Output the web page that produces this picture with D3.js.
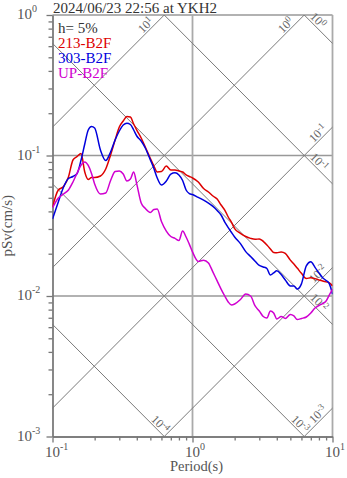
<!DOCTYPE html>
<html>
<head>
<meta charset="utf-8">
<script src="https://cdn.jsdelivr.net/npm/d3@7"></script>
<style>
  html, body { margin: 0; padding: 0; background: #fff; }
  svg { display: block; font-family: "Liberation Serif", "Times New Roman", serif; }
</style>
</head>
<body>
<svg id="chart" width="347" height="478"></svg>
<script>
// Pseudo-velocity response spectra (h = 5%), period in seconds, pSv in cm/s
const periods = [0.10, 0.11, 0.12, 0.13, 0.14, 0.15, 0.16, 0.17, 0.18, 0.19,
  0.20, 0.22, 0.24, 0.26, 0.28, 0.30, 0.32, 0.34, 0.36, 0.38, 0.40,
  0.43, 0.46, 0.50, 0.53, 0.56, 0.60,
  0.65, 0.70, 0.75, 0.80, 0.85, 0.90, 0.95,
  1.0, 1.1, 1.2, 1.3, 1.4, 1.5, 1.6, 1.7, 1.8, 1.9, 2.0,
  2.2, 2.4, 2.6, 2.8, 3.0, 3.2, 3.4, 3.6, 3.8, 4.0,
  4.3, 4.6, 5.0, 5.3, 5.6, 6.0,
  6.5, 7.0, 7.5, 8.0, 8.5, 9.0, 9.5, 10];

const sv213 = [0.0430, 0.0568, 0.0602, 0.0703, 0.0929, 0.0984, 0.1033, 0.0763, 0.0675, 0.0697,
  0.0697, 0.0715, 0.0801, 0.1008, 0.1289, 0.1595, 0.1759, 0.1894, 0.1878, 0.1676, 0.1518,
  0.1332, 0.1150, 0.0952, 0.0842, 0.0763, 0.0769,
  0.0842, 0.0789, 0.0789, 0.0776, 0.0763, 0.0727, 0.0709,
  0.0692, 0.0648, 0.0582, 0.0550, 0.0515, 0.0490, 0.0444, 0.0409, 0.0365, 0.0334, 0.0302,
  0.0279, 0.0265, 0.0257, 0.0253, 0.0255, 0.0245, 0.0231, 0.0216, 0.0204, 0.0203,
  0.0206, 0.0201, 0.0180, 0.0169, 0.0158, 0.0145,
  0.0133, 0.0135, 0.0133, 0.0130, 0.0128, 0.0126, 0.0124, 0.0118];

const sv303 = [0.0353, 0.0467, 0.0597, 0.0686, 0.0709, 0.0745, 0.0929, 0.1207, 0.1519, 0.1608,
  0.1569, 0.1094, 0.0921, 0.1059, 0.1289, 0.1494, 0.1648, 0.1695, 0.1662, 0.1519, 0.1377,
  0.1268, 0.1131, 0.0929, 0.0808, 0.0692, 0.0617,
  0.0658, 0.0738, 0.0754, 0.0727, 0.0664, 0.0568, 0.0536,
  0.0528, 0.0503, 0.0482, 0.0459, 0.0434, 0.0406, 0.0377, 0.0336, 0.0307, 0.0283, 0.0263,
  0.0236, 0.0207, 0.0191, 0.0177, 0.0165, 0.0161, 0.0157, 0.0141, 0.0146, 0.0151,
  0.0142, 0.0130, 0.0118, 0.0118, 0.0112, 0.0122,
  0.0164, 0.0175, 0.0160, 0.0146, 0.0135, 0.0129, 0.0122, 0.0103];

const svUP = [0.0423, 0.0498, 0.0532, 0.0568, 0.0648, 0.0751, 0.0856, 0.0899, 0.0849, 0.0745,
  0.0627, 0.0532, 0.0541, 0.0664, 0.0769, 0.0776, 0.0738, 0.0658, 0.0680, 0.0763, 0.0625,
  0.0459, 0.0420, 0.0393, 0.0413, 0.0416, 0.0339,
  0.0290, 0.0265, 0.0257, 0.0248, 0.0290, 0.0263, 0.0233,
  0.0206, 0.0176, 0.0180, 0.0172, 0.0148, 0.0128, 0.0112, 0.0100, 0.00907, 0.00863, 0.00877,
  0.00944, 0.01033, 0.0100, 0.00849, 0.00782, 0.00715, 0.00697, 0.00782, 0.00757, 0.00686,
  0.00715, 0.00692, 0.00738, 0.00721, 0.00680, 0.00692,
  0.00709, 0.00757, 0.00822, 0.00856, 0.00884, 0.00921, 0.0102, 0.0112];

const seriesNames = ["213-B2F", "303-B2F", "UP-B2F"];
const seriesColors = ["#dd0000", "#0000dd", "#d000d0"];
const seriesValues = [sv213, sv303, svUP];

// Tripartite guide lines: acceleration (cm/s^2) and displacement (cm) levels
const accelLevels = [10, 1, 0.1, 0.01, 0.001];
const dispLevels = [1, 0.1, 0.01, 0.001, 0.0001];

const xMajorTicks = [0.1, 1, 10];
const yMajorTicks = [0.001, 0.01, 0.1, 1];

const titleText = "2024/06/23 22:56 at YKH2";
const dampingText = "h= 5%";
const xTitle = "Period(s)";
const yTitle = "pSv(cm/s)";

// ---- layout ----
const svg = d3.select("#chart");
const L = 52.5, R = 332.5, T = 15, B = 436.5;
const x = d3.scaleLog().domain([0.1, 10]).range([L, R]);
const y = d3.scaleLog().domain([0.001, 1]).range([B, T]);
const TWO_PI = 2 * Math.PI;
const textGray = "#555";

svg.append("defs").append("clipPath").attr("id", "plotClip")
  .append("rect").attr("x", L).attr("y", T).attr("width", R - L).attr("height", B - T);

function minorTicks(domain) {
  const out = [];
  for (let d = domain[0]; d < domain[1] * 0.999; d *= 10) {
    for (let k = 2; k <= 9; k++) out.push(+(k * d).toPrecision(3));
  }
  return out;
}

function powerText(sel, exponent, supSize, supDy) {
  sel.append("tspan").text("10");
  sel.append("tspan").attr("dy", supDy).attr("font-size", supSize).text(String(exponent));
}

// ---- grid ----
const grid = svg.append("g");
grid.selectAll("line.hgrid").data([1, 0.1, 0.01]).join("line").attr("class", "hgrid")
  .attr("x1", L).attr("x2", R).attr("y1", d => y(d)).attr("y2", d => y(d))
  .attr("stroke", "#999").attr("stroke-width", 1.4);
grid.selectAll("line.vgrid").data([1, 10]).join("line").attr("class", "vgrid")
  .attr("y1", T).attr("y2", B).attr("x1", d => x(d)).attr("x2", d => x(d))
  .attr("stroke", "#aaa").attr("stroke-width", 1.8);

// ---- diagonal guides ----
const lineGen = d3.line().x(d => x(d[0])).y(d => y(d[1]));
const diag = svg.append("g").attr("clip-path", "url(#plotClip)");
accelLevels.forEach(a => {
  diag.append("path").attr("d", lineGen([0.05, 20].map(t => [t, a * t / TWO_PI])))
    .attr("fill", "none").attr("stroke", "#7a7a7a").attr("stroke-width", 1);
});
dispLevels.forEach(dv => {
  diag.append("path").attr("d", lineGen([0.05, 20].map(t => [t, TWO_PI * dv / t])))
    .attr("fill", "none").attr("stroke", "#7a7a7a").attr("stroke-width", 1);
});

const guideLabels = svg.append("g").attr("fill", "#666").attr("font-size", 12);
const s2 = Math.SQRT1_2;
accelLevels.forEach(a => {
  const tTop = TWO_PI / a;
  let ex, ey, back;
  if (tTop <= 10) { ex = x(tTop); ey = y(1); back = 12; }
  else { ex = x(10); ey = y(a * 10 / TWO_PI); back = 5; }
  const px = ex - back * s2, py = ey + back * s2;
  const t = guideLabels.append("text").attr("text-anchor", "end")
    .attr("transform", `translate(${px},${py}) rotate(-45)`).attr("dy", -2);
  powerText(t, Math.round(Math.log10(a)), 9, -4);
});
dispLevels.forEach(dv => {
  const tBot = TWO_PI * dv / 0.001;
  let t;
  if (tBot <= 10) {
    const ex = x(tBot), ey = y(0.001), back = 2;
    t = guideLabels.append("text").attr("text-anchor", "end")
      .attr("transform", `translate(${ex - back * s2},${ey - back * s2}) rotate(45)`).attr("dy", -2);
  } else {
    const sx = 308, tp = x.invert(sx);
    const sy = y(TWO_PI * dv / tp);
    t = guideLabels.append("text").attr("text-anchor", "start")
      .attr("transform", `translate(${sx},${sy}) rotate(45)`).attr("dy", -2);
  }
  powerText(t, Math.round(Math.log10(dv)), 9, -4);
});

// ---- axes ----
const axisColor = "#777";
function styleAxis(g) {
  g.selectAll("path, line").attr("stroke", axisColor).attr("stroke-width", 1.3);
}
svg.append("g").attr("transform", `translate(${L},0)`)
  .call(d3.axisLeft(y).tickValues(minorTicks([0.001, 1])).tickSize(4).tickSizeOuter(0).tickFormat(""))
  .call(styleAxis);
svg.append("g").attr("transform", `translate(${L},0)`)
  .call(d3.axisLeft(y).tickValues(yMajorTicks).tickSize(6).tickSizeOuter(0).tickFormat(""))
  .call(styleAxis);
svg.append("g").attr("transform", `translate(0,${B})`)
  .call(d3.axisBottom(x).tickValues(minorTicks([0.1, 10])).tickSize(4).tickSizeOuter(0).tickFormat(""))
  .call(styleAxis);
svg.append("g").attr("transform", `translate(0,${B})`)
  .call(d3.axisBottom(x).tickValues(xMajorTicks).tickSize(6).tickSizeOuter(0).tickFormat(""))
  .call(styleAxis);

const tickLabels = svg.append("g").attr("fill", textGray).attr("font-size", 15);
yMajorTicks.forEach(v => {
  const t = tickLabels.append("text").attr("x", 17).attr("y", y(v) + 4);
  powerText(t, Math.round(Math.log10(v)), 10, -7);
});
xMajorTicks.forEach(v => {
  const t = tickLabels.append("text").attr("x", x(v) - 7.5).attr("y", B + 20);
  powerText(t, Math.round(Math.log10(v)), 10, -7);
});

svg.append("text").attr("x", (L + R) / 2 + 4).attr("y", 471).attr("text-anchor", "middle")
  .attr("fill", textGray).attr("font-size", 14.5).text(xTitle);
svg.append("text").attr("transform", `translate(12,${(T + B) / 2}) rotate(-90)`)
  .attr("text-anchor", "middle").attr("fill", textGray).attr("font-size", 15).text(yTitle);

// ---- spectra ----
const curves = svg.append("g").attr("clip-path", "url(#plotClip)");
const specLine = d3.line().x(d => x(d[0])).y(d => y(d[1])).curve(d3.curveMonotoneX);
seriesValues.forEach((vals, i) => {
  curves.append("path")
    .attr("d", specLine(periods.map((p, j) => [p, vals[j]])))
    .attr("fill", "none").attr("stroke", seriesColors[i]).attr("stroke-width", 1.5)
    .attr("stroke-linejoin", "round");
});

// ---- title & legend ----
svg.append("text").attr("x", 53).attr("y", 12.5).attr("fill", "#333").attr("font-size", 15).text(titleText);
const legend = svg.append("g").attr("font-size", 15);
legend.append("text").attr("x", 58).attr("y", 33).attr("fill", "#333").text(dampingText);
seriesNames.forEach((n, i) => {
  legend.append("text").attr("x", 58).attr("y", 48 + i * 15).attr("fill", seriesColors[i]).text(n);
});
</script>
</body>
</html>
